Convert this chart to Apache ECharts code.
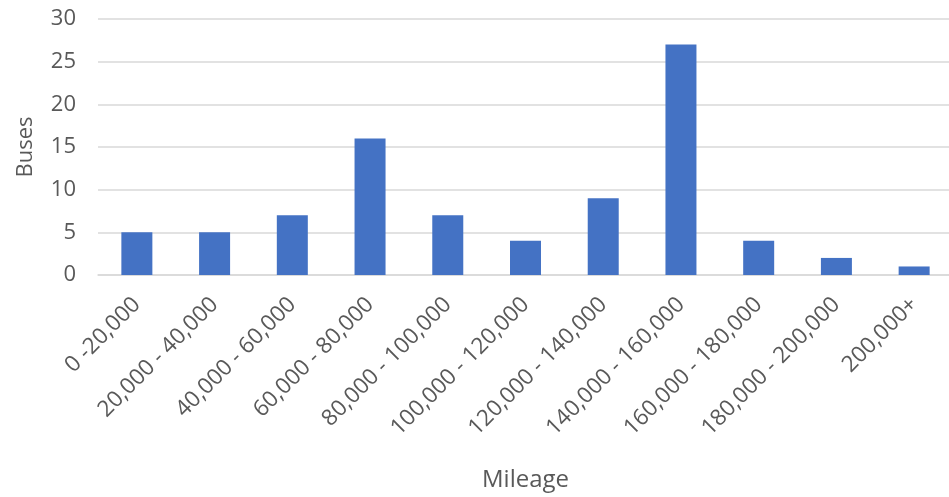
<!DOCTYPE html>
<html>
<head>
<meta charset="utf-8">
<title>Buses by mileage</title>
<script src="https://cdn.jsdelivr.net/npm/echarts@6/dist/echarts.min.js"></script>
<style>
  html, body { margin: 0; padding: 0; background: #fff; }
  #chart { width: 949px; height: 497px; }
</style>
</head>
<body>
<div id="chart"></div>
<script>
// mileage bands and bus counts
const mileageBands = ['0 -20,000', '20,000 - 40,000', '40,000 - 60,000', '60,000 - 80,000',
  '80,000 - 100,000', '100,000 - 120,000', '120,000 - 140,000', '140,000 - 160,000',
  '160,000 - 180,000', '180,000 - 200,000', '200,000+']
const busCounts = [5, 5, 7, 16, 7, 4, 9, 27, 4, 2, 1]

const textColor = '#595959'
const lineColor = '#d9d9d9'
const fontFamily = '"Open Sans", "Noto Sans", sans-serif'

const chart = echarts.init(document.getElementById('chart'))
chart.setOption({
  animation: false,
  textStyle: { fontFamily: fontFamily },
  grid: {
    left: 98,
    top: 19,
    width: 855,
    bottom: 222,
    containLabel: false,
    outerBoundsMode: 'none'
  },
  xAxis: {
    type: 'category',
    data: mileageBands,
    name: 'Mileage',
    nameLocation: 'middle',
    nameGap: 193,
    nameTextStyle: { color: textColor, fontSize: 24, fontFamily: fontFamily },
    axisLine: { lineStyle: { color: lineColor, width: 1.5 } },
    axisTick: { show: false },
    axisLabel: {
      interval: 0,
      rotate: 45,
      margin: 26,
      color: textColor,
      fontSize: 22.5,
      fontFamily: fontFamily
    }
  },
  yAxis: {
    type: 'value',
    min: 0,
    max: 30,
    interval: 5,
    name: 'Buses',
    nameLocation: 'middle',
    nameGap: 61,
    nameTextStyle: { color: textColor, fontSize: 22, fontFamily: fontFamily },
    axisLine: { show: false },
    axisTick: { show: false },
    axisLabel: { color: textColor, fontSize: 22, margin: 22, fontFamily: fontFamily },
    splitLine: { lineStyle: { color: lineColor, width: 1.5 } }
  },
  series: [
    {
      type: 'bar',
      data: busCounts,
      barWidth: 31,
      itemStyle: { color: '#4472c4' }
    }
  ]
})
</script>
</body>
</html>
